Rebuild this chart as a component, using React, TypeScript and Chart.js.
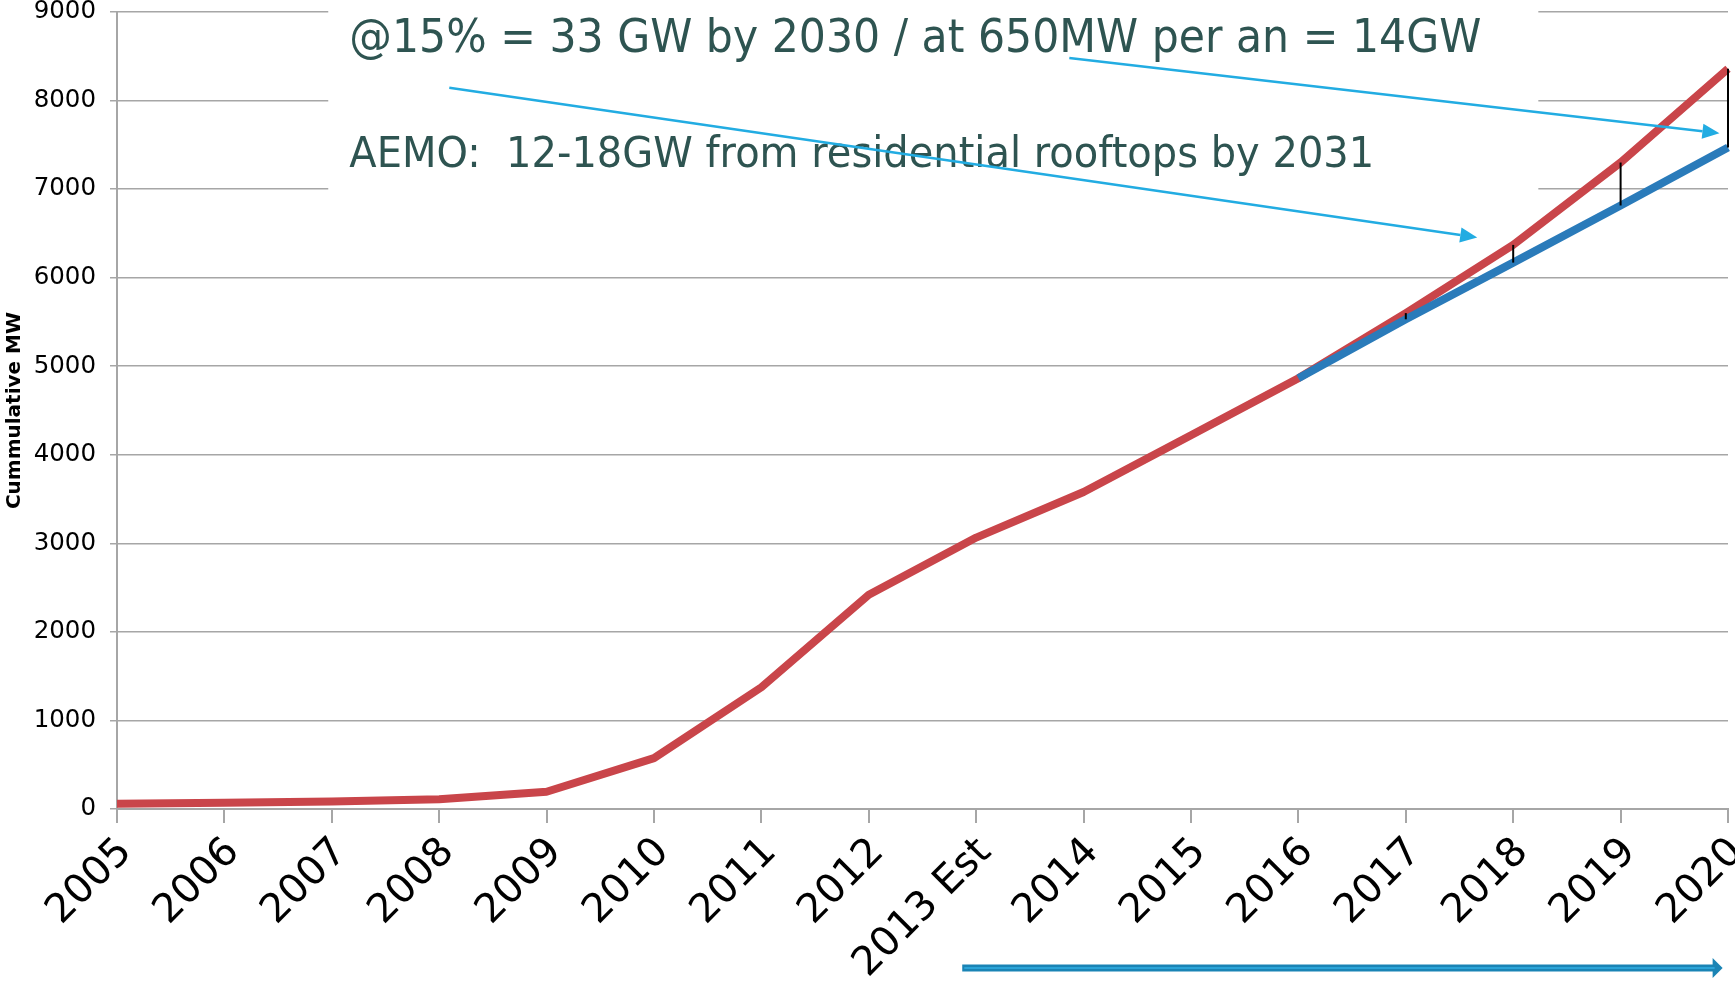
import React, { useEffect, useRef } from "react";
import { Chart, registerables } from "chart.js";

Chart.register(...registerables);

// ---------- data ----------
const years = [
  "2005", "2006", "2007", "2008", "2009", "2010", "2011", "2012",
  "2013 Est", "2014", "2015", "2016", "2017", "2018", "2019", "2020",
];
const installedMW = [60, 70, 85, 110, 195, 575, 1375, 2420, 3065, 3580, 4220, 4865, 5600, 6370, 7300, 8360];
const trendMW = [null, null, null, null, null, null, null, null, null, null, null, 4865, 5530, 6170, 6815, 7470];
const gapYears = ["2017", "2018", "2019", "2020"];
const yAxisTitle = "Cummulative MW";
const titleText = "@15% = 33 GW by 2030 / at 650MW per an = 14GW";
const aemoText = "AEMO:  12-18GW from residential rooftops by 2031";

// annotation anchors in data units: [category index, MW]
const textLeft = 2.163;
const titleRight = 12.703;
const aemoRight = 11.707;
const titleMW = 8680;
const aemoMW = 7380;
const boxFrom = [1.967, 9140];
const boxTo = [13.234, 6724];
const arrowOne = [[3.094, 8145], [12.665, 6454]];
const arrowTwo = [[8.867, 8480], [14.92, 7632]];
const timeArrow = [7.87, 14.95];

const FONT = '"DejaVu Sans", "Liberation Sans", sans-serif';

function arrow(ctx: CanvasRenderingContext2D, x1: number, y1: number, x2: number, y2: number) {
  const ang = Math.atan2(y2 - y1, x2 - x1);
  const headLen = 17;
  const headHalf = 7.5;
  const bx = x2 - headLen * Math.cos(ang);
  const by = y2 - headLen * Math.sin(ang);
  ctx.save();
  ctx.strokeStyle = "#22ACE2";
  ctx.fillStyle = "#22ACE2";
  ctx.lineWidth = 2.5;
  ctx.beginPath();
  ctx.moveTo(x1, y1);
  ctx.lineTo(bx, by);
  ctx.stroke();
  ctx.beginPath();
  ctx.moveTo(x2, y2);
  ctx.lineTo(bx + headHalf * Math.sin(ang), by - headHalf * Math.cos(ang));
  ctx.lineTo(bx - headHalf * Math.sin(ang), by + headHalf * Math.cos(ang));
  ctx.closePath();
  ctx.fill();
  ctx.restore();
}

function fitText(ctx: CanvasRenderingContext2D, text: string, width: number) {
  ctx.font = `46px ${FONT}`;
  const w = ctx.measureText(text).width;
  return (46 * width) / w;
}

function tallText(ctx: CanvasRenderingContext2D, text: string, x: number, y: number, size: number) {
  const stretch = 1.07;
  ctx.save();
  ctx.font = `${size.toFixed(2)}px ${FONT}`;
  ctx.translate(x, y);
  ctx.scale(1, stretch);
  ctx.fillText(text, 0, 0);
  ctx.restore();
}

const annotate = {
  id: "annotate",
  beforeDatasetsDraw(chart: any) {
    const { ctx, scales } = chart;
    const x = scales.x;
    const y = scales.y;
    ctx.save();
    // white text panel hiding the gridlines
    const bx1 = x.getPixelForValue(boxFrom[0]);
    const bx2 = x.getPixelForValue(boxTo[0]);
    const by1 = y.getPixelForValue(boxFrom[1]);
    const by2 = y.getPixelForValue(boxTo[1]);
    ctx.fillStyle = "#ffffff";
    ctx.fillRect(bx1, by1, bx2 - bx1, by2 - by1);

    const left = x.getPixelForValue(textLeft);
    const s1 = fitText(ctx, titleText, x.getPixelForValue(titleRight) - left);
    const s2 = fitText(ctx, aemoText, x.getPixelForValue(aemoRight) - left);
    ctx.fillStyle = "#2E5451";
    ctx.textAlign = "left";
    ctx.textBaseline = "middle";
    tallText(ctx, titleText, left, y.getPixelForValue(titleMW), s1);
    tallText(ctx, aemoText, left, y.getPixelForValue(aemoMW), s2);
    ctx.restore();
  },
  afterDatasetsDraw(chart: any) {
    const { ctx, scales } = chart;
    const x = scales.x;
    const y = scales.y;
    ctx.save();
    // gap markers between actual and trend
    ctx.strokeStyle = "#000000";
    ctx.lineWidth = 2;
    gapYears.forEach((yr) => {
      const i = years.indexOf(yr);
      const px = x.getPixelForValue(i);
      ctx.beginPath();
      ctx.moveTo(px, y.getPixelForValue(installedMW[i]));
      ctx.lineTo(px, y.getPixelForValue(trendMW[i] as number));
      ctx.stroke();
    });
    ctx.restore();

    arrow(ctx, x.getPixelForValue(arrowOne[0][0]), y.getPixelForValue(arrowOne[0][1]),
      x.getPixelForValue(arrowOne[1][0]), y.getPixelForValue(arrowOne[1][1]));
    arrow(ctx, x.getPixelForValue(arrowTwo[0][0]), y.getPixelForValue(arrowTwo[0][1]),
      x.getPixelForValue(arrowTwo[1][0]), y.getPixelForValue(arrowTwo[1][1]));

    // time arrow under the axis
    const ax1 = x.getPixelForValue(timeArrow[0]);
    const ax2 = x.getPixelForValue(timeArrow[1]);
    const ay = chart.height - 13;
    ctx.save();
    ctx.fillStyle = "#1A84B5";
    ctx.fillRect(ax1, ay - 3.5, ax2 - 9 - ax1, 7);
    ctx.beginPath();
    ctx.moveTo(ax2, ay);
    ctx.lineTo(ax2 - 10, ay - 10);
    ctx.lineTo(ax2 - 10, ay + 10);
    ctx.closePath();
    ctx.fill();
    ctx.fillStyle = "#2BA4D8";
    ctx.fillRect(ax1 + 2, ay - 1, ax2 - 10 - ax1, 2);
    ctx.restore();
  },
};

export default function App() {
  const ref = useRef<HTMLCanvasElement | null>(null);
  useEffect(() => {
    if (!ref.current) return;
    const chart = new Chart(ref.current, {
      type: "line",
      data: {
        labels: years,
        datasets: [
          {
            label: "Trend",
            data: trendMW,
            borderColor: "#2A7BBA",
            borderWidth: 8,
            pointRadius: 0,
            tension: 0,
            order: 0,
            borderJoinStyle: "round",
          },
          {
            label: "Installed",
            data: installedMW,
            borderColor: "#C9454A",
            borderWidth: 8,
            pointRadius: 0,
            tension: 0,
            order: 1,
            borderJoinStyle: "round",
          },
        ],
      },
      options: {
        responsive: false,
        animation: false,
        events: [],
        layout: { padding: { left: 0, right: 7, top: 12, bottom: 0 } },
        plugins: { legend: { display: false }, tooltip: { enabled: false } },
        scales: {
          x: {
            type: "category",
            offset: false,
            grid: { drawOnChartArea: false, drawTicks: true, tickLength: 14, color: "#A6A6A6", lineWidth: 2 },
            border: { color: "#A6A6A6", width: 2 },
            ticks: {
              autoSkip: false,
              maxRotation: 45,
              minRotation: 45,
              padding: 6,
              labelOffset: 9,
              color: "#000000",
              font: { family: FONT, size: 40 },
            },
            afterFit: (s: any) => {
              s.height = 172;
              s.paddingLeft = 0;
              s.paddingRight = 0;
            },
          },
          y: {
            min: 0,
            max: 9000,
            grid: { color: "#A6A6A6", lineWidth: 1.5, tickLength: 7 },
            border: { color: "#A6A6A6", width: 2 },
            ticks: {
              stepSize: 1000,
              padding: 14,
              color: "#000000",
              font: { family: FONT, size: 24.5, lineHeight: 1 },
              callback: (v: any) => String(v),
            },
            title: {
              display: true,
              text: yAxisTitle,
              color: "#000000",
              font: { family: FONT, size: 20, weight: "bold" },
              padding: { top: 3, bottom: 0 },
            },
            afterFit: (s: any) => {
              s.width = 117;
              s.paddingTop = 0;
              s.paddingBottom = 0;
            },
          },
        },
      },
      plugins: [annotate],
    } as any);
    return () => chart.destroy();
  }, []);
  return (
    <div style={{ position: "fixed", left: 0, top: 0, width: 1735, height: 981, background: "#ffffff" }}>
      <canvas ref={ref} width={1735} height={981} style={{ display: "block" }} />
    </div>
  );
}
